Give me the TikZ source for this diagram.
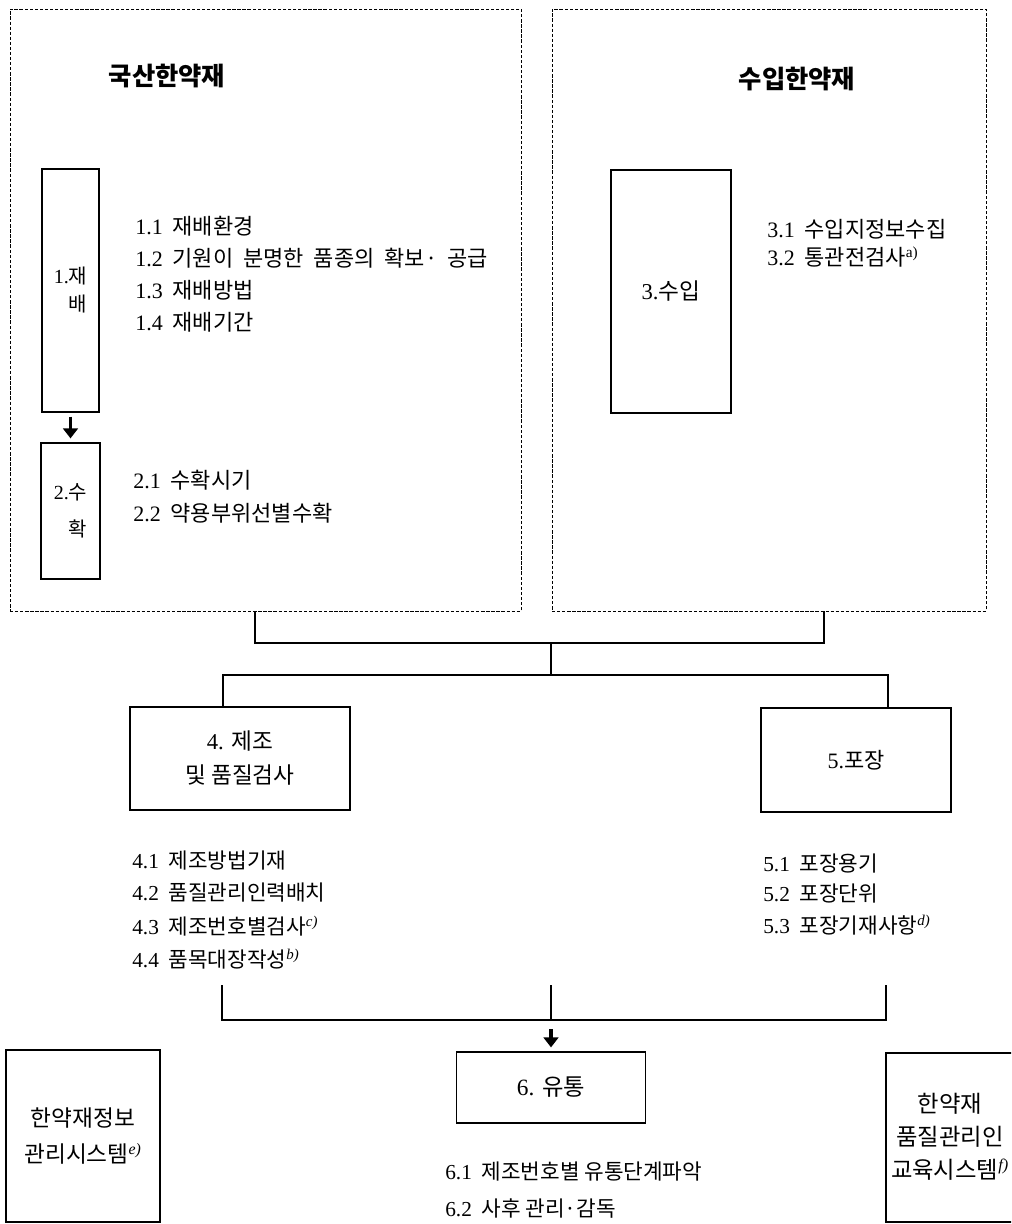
\documentclass[tikz,border=0pt]{standalone}
\usepackage{fontspec}
\setmainfont{Liberation Serif}
\newfontfamily\krf{Noto Sans CJK KR}
\usetikzlibrary{arrows.meta}
\newcommand\supx[1]{\textsuperscript{\itshape #1}}
\newcommand\supu[1]{\textsuperscript{#1}}
\begin{document}
\begin{tikzpicture}[x=0.75pt,y=-0.75pt,
  dbox/.style={draw, dash pattern=on 2.5pt off 1.3pt, line width=0.7pt, inner sep=0pt},
  sbox/.style={draw, line width=0.9pt, inner sep=0pt, align=center},
  item/.style={anchor=west, inner sep=0pt, font=\fontsize{16.5}{19}\selectfont},
  itemb/.style={anchor=west, inner sep=0pt, font=\fontsize{16}{19}\selectfont},
  ttl/.style={inner sep=0pt, font=\fontsize{19}{23}\selectfont\krf\bfseries},
  conn/.style={line width=0.8pt},
  arr/.style={line width=2.6pt, -{Triangle[length=7.5pt,width=11pt]}}
]
\useasboundingbox (0,0) rectangle (1011,1224);
\clip (0,0) rectangle (1011,1224);
\fill[white] (0,0) rectangle (1011,1224);

% dashed group boxes
\node[dbox, minimum width=383.25pt, minimum height=451.5pt] (lbox) at (265.5,310) {};
\node[dbox, minimum width=325.5pt, minimum height=451.5pt] (rbox) at (769,310) {};

\node[ttl] (t1) at (167,76) {국산한약재};
\node[ttl] (t2) at (797,79) {수입한약재};

% step boxes
\node[sbox, align=right, font=\fontsize{15}{21}\selectfont, minimum width=42.75pt, minimum height=182.25pt] (b1) at (70.5,290.5) {1.{\krf 재}\\{\krf 배}};
\node[sbox, align=right, font=\fontsize{15}{27.75}\selectfont, minimum width=44.25pt, minimum height=102pt] (b2) at (70.5,511) {2.{\krf 수}\\{\krf 확}};
\node[sbox, font=\fontsize{17}{21}\selectfont, minimum width=90pt, minimum height=182.25pt] (b3) at (671,291.5) {3.{\krf 수입}};
\node[sbox, font=\fontsize{17}{25.5}\selectfont, minimum width=165pt, minimum height=77.25pt] (b4) at (240,758.5) {4. {\krf 제조}\\{\krf 및 품질검사}};
\node[sbox, font=\fontsize{16.5}{21}\selectfont, minimum width=142.5pt, minimum height=78pt] (b5) at (856,760) {5.{\krf 포장}};
\node[sbox, font=\fontsize{17.5}{21}\selectfont, minimum width=141.75pt, minimum height=53.25pt] (b6) at (551,1087.5) {6. {\krf 유통}};
\node[sbox, font=\fontsize{17}{27}\selectfont, minimum width=115.5pt, minimum height=129pt] (b7) at (83,1136) {{\krf 한약재정보}\\{\krf 관리시스템}\supx{e)}};
\node[sbox, minimum width=115.5pt, minimum height=126.75pt] (b8) at (963,1137.5) {};
\node[inner sep=0pt, align=center, font=\fontsize{17.5}{24.75}\selectfont] (b8t) at (950,1137) {{\krf 한약재}\\{\krf 품질관리인}\\{\krf 교육시스템}\supx{f)}};

% items
\node[item] (i11) at (135,226) {1.1\hspace{0.45em}{\krf 재배환경}};
\node[item] (i12) at (135,258) {1.2\hspace{0.45em}{\krf 기원이\hspace{0.45em}분명한\hspace{0.45em}품종의\hspace{0.45em}확보·\hspace{0.45em}공급}};
\node[item] (i13) at (135,290) {1.3\hspace{0.45em}{\krf 재배방법}};
\node[item] (i14) at (135,322) {1.4\hspace{0.45em}{\krf 재배기간}};
\node[item] (i21) at (133,480) {2.1\hspace{0.45em}{\krf 수확시기}};
\node[item] (i22) at (133,513) {2.2\hspace{0.45em}{\krf 약용부위선별수확}};
\node[item] (i31) at (767,229) {3.1\hspace{0.45em}{\krf 수입지정보수집}};
\node[item] (i32) at (767,257) {3.2\hspace{0.45em}{\krf 통관전검사}\supu{a)}};
\node[itemb] (i41) at (132,860) {4.1\hspace{0.45em}{\krf 제조방법기재}};
\node[itemb] (i42) at (132,893) {4.2\hspace{0.45em}{\krf 품질관리인력배치}};
\node[itemb] (i43) at (132,926) {4.3\hspace{0.45em}{\krf 제조번호별검사}\supx{c)}};
\node[itemb] (i44) at (132,959) {4.4\hspace{0.45em}{\krf 품목대장작성}\supx{b)}};
\node[itemb] (i51) at (763,863) {5.1\hspace{0.45em}{\krf 포장용기}};
\node[itemb] (i52) at (763,893) {5.2\hspace{0.45em}{\krf 포장단위}};
\node[itemb] (i53) at (763,925) {5.3\hspace{0.45em}{\krf 포장기재사항}\supx{d)}};
\node[itemb] (i61) at (445,1172) {6.1\hspace{0.45em}{\krf 제조번호별 유통단계파악}};
\node[itemb] (i62) at (445,1209) {6.2\hspace{0.45em}{\krf 사후 관리·감독}};

% connectors
\draw[arr, shorten <=3pt, shorten >=3pt] (b1.south) -- (b2.north);

\coordinate (tl) at (255,643);
\coordinate (tr) at (824,643);
\coordinate (tm) at (551,643);
\coordinate (bl) at (223,675);
\coordinate (br) at (888,675);
\coordinate (bm) at (551,675);
\draw[conn] (lbox.south -| tl) -- (tl) -- (tr) -- (rbox.south -| tr);
\draw[conn] (tm) -- (bm);
\draw[conn] (b4.north -| bl) -- (bl) -- (br) -- (b5.north -| br);

\coordinate (ul) at (222,985);
\coordinate (ur) at (886,985);
\coordinate (um) at (551,985);
\coordinate (hl) at (222,1020);
\coordinate (hr) at (886,1020);
\coordinate (hm) at (551,1020);
\coordinate (am) at (551,1029);
\draw[conn] (ul) -- (hl) -- (hr) -- (ur);
\draw[conn] (um) -- (hm);
\draw[arr, shorten >=3pt] (am) -- (b6.north);
\end{tikzpicture}
\end{document}
